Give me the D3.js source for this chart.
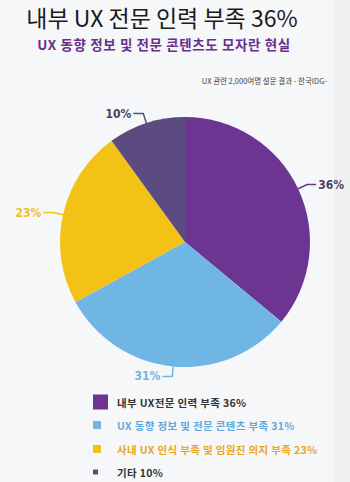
<!DOCTYPE html>
<html><head><meta charset="utf-8">
<script src="https://cdn.jsdelivr.net/npm/d3@7"></script>
<style>
html,body{margin:0;padding:0;background:#f6f7f8;}
svg{display:block;}
</style></head>
<body>
<script>
const categories = ["내부 UX전문 인력 부족", "UX 동향 정보 및 전문 콘텐츠 부족", "사내 UX 인식 부족 및 임원진 의지 부족", "기타"];
const values = [36, 31, 23, 10];
const sliceColors = ["#6b3591", "#70b6e4", "#f2c316", "#5c4b80"];
const labelColors = ["#4a3f66", "#70b6e4", "#f0c020", "#4a3f66"];
const legendColors = ["#333333", "#5ea9dc", "#e9a51c", "#333333"];
const legendSizes = [15, 8, 8, 5];
const title = "내부 UX 전문 인력 부족 36%";
const subtitle = "UX 동향 정보 및 전문 콘텐츠도 모자란 현실";
const source = "UX 관련 2,000여명 설문 결과 - 한국IDG-";

const W = 350, H = 482;
const font = "'Noto Sans CJK KR', 'Noto Sans', sans-serif";
const svg = d3.select("body").append("svg").attr("width", W).attr("height", H);

svg.append("rect").attr("width", W).attr("height", H).attr("fill", "#f6f7f8");
svg.append("rect").attr("x", 334).attr("width", W - 334).attr("height", H).attr("fill", "#eef0f1");

svg.append("text").attr("x", 162).attr("y", 27).attr("text-anchor", "middle")
  .attr("font-family", font).attr("font-size", 23).attr("fill", "#1a1a1a").text(title);
svg.append("text").attr("x", 164).attr("y", 50).attr("text-anchor", "middle")
  .attr("font-family", font).attr("font-size", 13.5).attr("font-weight", "bold")
  .attr("letter-spacing", 0.6).attr("fill", "#6a2f8c").text(subtitle);
svg.append("text").attr("x", 327).attr("y", 84).attr("text-anchor", "end")
  .attr("font-family", font).attr("font-size", 7.5).attr("fill", "#444").text(source);

const cx = 185, cy = 242, r = 125;
const pie = d3.pie().sort(null).value(d => d)(values);
const arc = d3.arc().innerRadius(0).outerRadius(r);
const g = svg.append("g").attr("transform", `translate(${cx},${cy})`);
g.selectAll("path.slice").data(pie).join("path")
  .attr("d", arc).attr("fill", (d, i) => sliceColors[i]);

pie.forEach((d, i) => {
  const a = (d.startAngle + d.endAngle) / 2;
  const p0 = [r * Math.sin(a), -r * Math.cos(a)];
  const p1 = [(r + 10) * Math.sin(a), -(r + 10) * Math.cos(a)];
  const right = Math.sin(a) > 0;
  const p2 = [p1[0] + (right ? 9 : -10), p1[1]];
  g.append("polyline").attr("points", [p0, p1, p2].map(p => p.join(",")).join(" "))
    .attr("fill", "none").attr("stroke", sliceColors[i]).attr("stroke-width", 1.5);
  g.append("text").attr("x", p2[0] + (right ? 2 : -2)).attr("y", p2[1] + 4)
    .attr("text-anchor", right ? "start" : "end")
    .attr("font-family", "'Liberation Sans Narrow', 'DejaVu Sans Condensed', sans-serif")
    .attr("font-size", 12).attr("font-weight", "bold").attr("fill", labelColors[i]).text(values[i] + "%");
});

const legendY = [403, 426, 450, 473];
categories.forEach((c, i) => {
  const s = legendSizes[i];
  svg.append("rect").attr("x", 93).attr("y", legendY[i] - s / 2 - 1).attr("width", s).attr("height", s)
    .attr("fill", sliceColors[i]);
  svg.append("text").attr("x", 117).attr("y", legendY[i] + 3.5)
    .attr("font-family", font).attr("font-size", 10.5).attr("font-weight", "bold")
    .attr("letter-spacing", 0.35)
    .attr("fill", legendColors[i]).text(c + " " + values[i] + "%");
});
</script>
</body></html>
